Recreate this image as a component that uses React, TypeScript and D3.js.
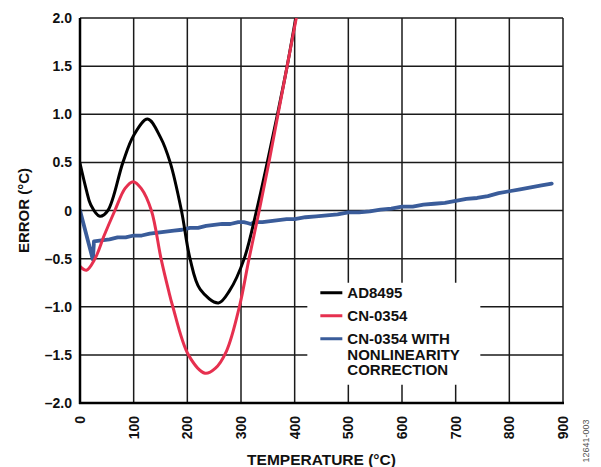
import React from 'react'
import * as d3 from 'd3'

// AD8495 (black)
const adTemp = [0, 12, 20, 37, 52, 80, 100, 126, 150, 168, 189, 205, 224, 258, 279, 306, 329, 349, 368, 386, 402]
const adErr = [0.49, 0.21, 0.06, -0.06, 0, 0.5, 0.78, 0.95, 0.76, 0.5, 0, -0.5, -0.82, -0.96, -0.83, -0.5, 0, 0.5, 1.0, 1.5, 2.0]

// CN-0354 (red)
const cnTemp = [0, 12, 28, 45, 65, 84, 99, 114, 133, 151, 165, 173, 202, 233, 252, 273, 297, 315, 334, 352, 369, 386, 403]
const cnErr = [-0.58, -0.62, -0.5, -0.26, 0, 0.23, 0.3, 0.23, 0, -0.5, -0.83, -1.0, -1.5, -1.69, -1.64, -1.46, -1.0, -0.5, 0, 0.5, 1.0, 1.5, 2.0]

// CN-0354 with nonlinearity correction (blue)
const nlTemp = [0, 24, 26, 40, 55, 70, 85, 100, 115, 130, 145, 160, 175, 190, 205, 220, 235, 250, 265, 280, 295, 305, 312, 318, 326, 340, 355, 370, 385, 400, 420, 440, 460, 480, 500, 520, 540, 560, 580, 600, 620, 640, 660, 680, 700, 720, 740, 760, 780, 800, 820, 840, 860, 879]
const nlErr = [0, -0.51, -0.32, -0.31, -0.3, -0.28, -0.28, -0.26, -0.26, -0.24, -0.23, -0.22, -0.21, -0.2, -0.18, -0.18, -0.16, -0.15, -0.14, -0.14, -0.12, -0.12, -0.13, -0.14, -0.12, -0.12, -0.11, -0.1, -0.09, -0.09, -0.07, -0.06, -0.05, -0.04, -0.02, -0.02, -0.01, 0.01, 0.02, 0.04, 0.04, 0.06, 0.07, 0.08, 0.1, 0.12, 0.13, 0.15, 0.18, 0.2, 0.22, 0.24, 0.26, 0.28]

const xTicks = [0, 100, 200, 300, 400, 500, 600, 700, 800, 900]
const yTicks = [-2, -1.5, -1, -0.5, 0, 0.5, 1, 1.5, 2]
const legendLabels = [['AD8495'], ['CN-0354'], ['CN-0354 WITH', 'NONLINEARITY', 'CORRECTION']]
const colors = ['#000000', '#e6304f', '#3a5c9a']

const W = 601
const H = 467
const margin = { top: 18, right: 38, bottom: 64, left: 80 }
const font = '"Liberation Sans", Arial, Helvetica, sans-serif'

const fmtY = (v: number) => (v === 0 ? '0' : (v < 0 ? '\u2013' : '') + Math.abs(v).toFixed(1))

export default function App() {
  const x = d3.scaleLinear().domain([0, 900]).range([margin.left, W - margin.right])
  const y = d3.scaleLinear().domain([-2, 2]).range([H - margin.bottom, margin.top])

  const smooth = d3.line<[number, number]>().x(d => x(d[0])).y(d => y(d[1])).curve(d3.curveCatmullRom.alpha(0.5))
  const straight = d3.line<[number, number]>().x(d => x(d[0])).y(d => y(d[1]))

  const adPts = adTemp.map((t, i) => [t, adErr[i]] as [number, number])
  const cnPts = cnTemp.map((t, i) => [t, cnErr[i]] as [number, number])
  const nlPts = nlTemp.map((t, i) => [t, nlErr[i]] as [number, number])

  const x0 = x(0), x1 = x(900), y0 = y(-2), y1 = y(2)

  // legend box sits over the grid
  const lgX = x(500) - 41
  const lgY = y(-1) - 24
  const rows = [0, 23, 46]

  return (
    <svg width={W} height={H} style={{ position: 'absolute', left: 0, top: 0, background: '#fff' }}
      fontFamily={font}>
      <defs>
        <clipPath id="plot">
          <rect x={x0} y={y1} width={x1 - x0} height={y0 - y1} />
        </clipPath>
      </defs>

      {/* grid */}
      {xTicks.map(t => (
        <line key={'gx' + t} x1={x(t)} x2={x(t)} y1={y1} y2={y0} stroke="#1a1a1a" strokeWidth={1.5} />
      ))}
      {yTicks.map(v => (
        <line key={'gy' + v} x1={x0} x2={x1} y1={y(v)} y2={y(v)} stroke="#1a1a1a" strokeWidth={1.5} />
      ))}

      <g clipPath="url(#plot)" fill="none" strokeLinejoin="round" strokeLinecap="round">
        <path d={straight(nlPts) || ''} stroke={colors[2]} strokeWidth={3.8} />
        <path d={smooth(adPts) || ''} stroke={colors[0]} strokeWidth={3} />
        <path d={smooth(cnPts) || ''} stroke={colors[1]} strokeWidth={3} />
      </g>

      {/* axes */}
      <line x1={x0} x2={x0} y1={y1} y2={y0 + 1} stroke="#000" strokeWidth={2.5} />
      <line x1={x0 - 1} x2={x1 + 1} y1={y0} y2={y0} stroke="#000" strokeWidth={2.5} />

      {/* legend */}
      <rect x={lgX} y={lgY} width={173} height={102} fill="#fff" />
      {legendLabels.map((lines, i) => (
        <g key={'lg' + i}>
          <line x1={lgX + 13} x2={lgX + 35} y1={lgY + 10 + rows[i]} y2={lgY + 10 + rows[i]}
            stroke={colors[i]} strokeWidth={3} />
          {lines.map((s, j) => (
            <text key={j} x={lgX + 40} y={lgY + 10 + rows[i] + j * 15.5} dy="0.36em"
              fontSize={15} fontWeight="bold" fill="#111">{s}</text>
          ))}
        </g>
      ))}

      {/* y ticks */}
      {yTicks.map(v => (
        <text key={'ty' + v} x={x0 - 8} y={y(v)} dy="0.36em" textAnchor="end"
          fontSize={14} fontWeight="bold" fill="#111">{fmtY(v)}</text>
      ))}

      {/* x ticks */}
      {xTicks.map(t => (
        <text key={'tx' + t} transform={`translate(${x(t)},${y0 + 13}) rotate(-90)`} dy="0.36em"
          textAnchor="end" fontSize={14} fontWeight="bold" fill="#111">{t}</text>
      ))}

      <text transform={`translate(${(x0 + x1) / 2},465)`} textAnchor="middle" fontSize={15.5}
        fontWeight="bold" fill="#111">TEMPERATURE (°C)</text>
      <text transform={`translate(24,${(y0 + y1) / 2}) rotate(-90)`} dy="0.36em" textAnchor="middle"
        fontSize={15} fontWeight="bold" fill="#111">ERROR (°C)</text>
      <text transform={`translate(586,441) rotate(-90)`} dy="0.36em" textAnchor="middle"
        fontSize={9} fill="#555">12641-003</text>
    </svg>
  )
}
